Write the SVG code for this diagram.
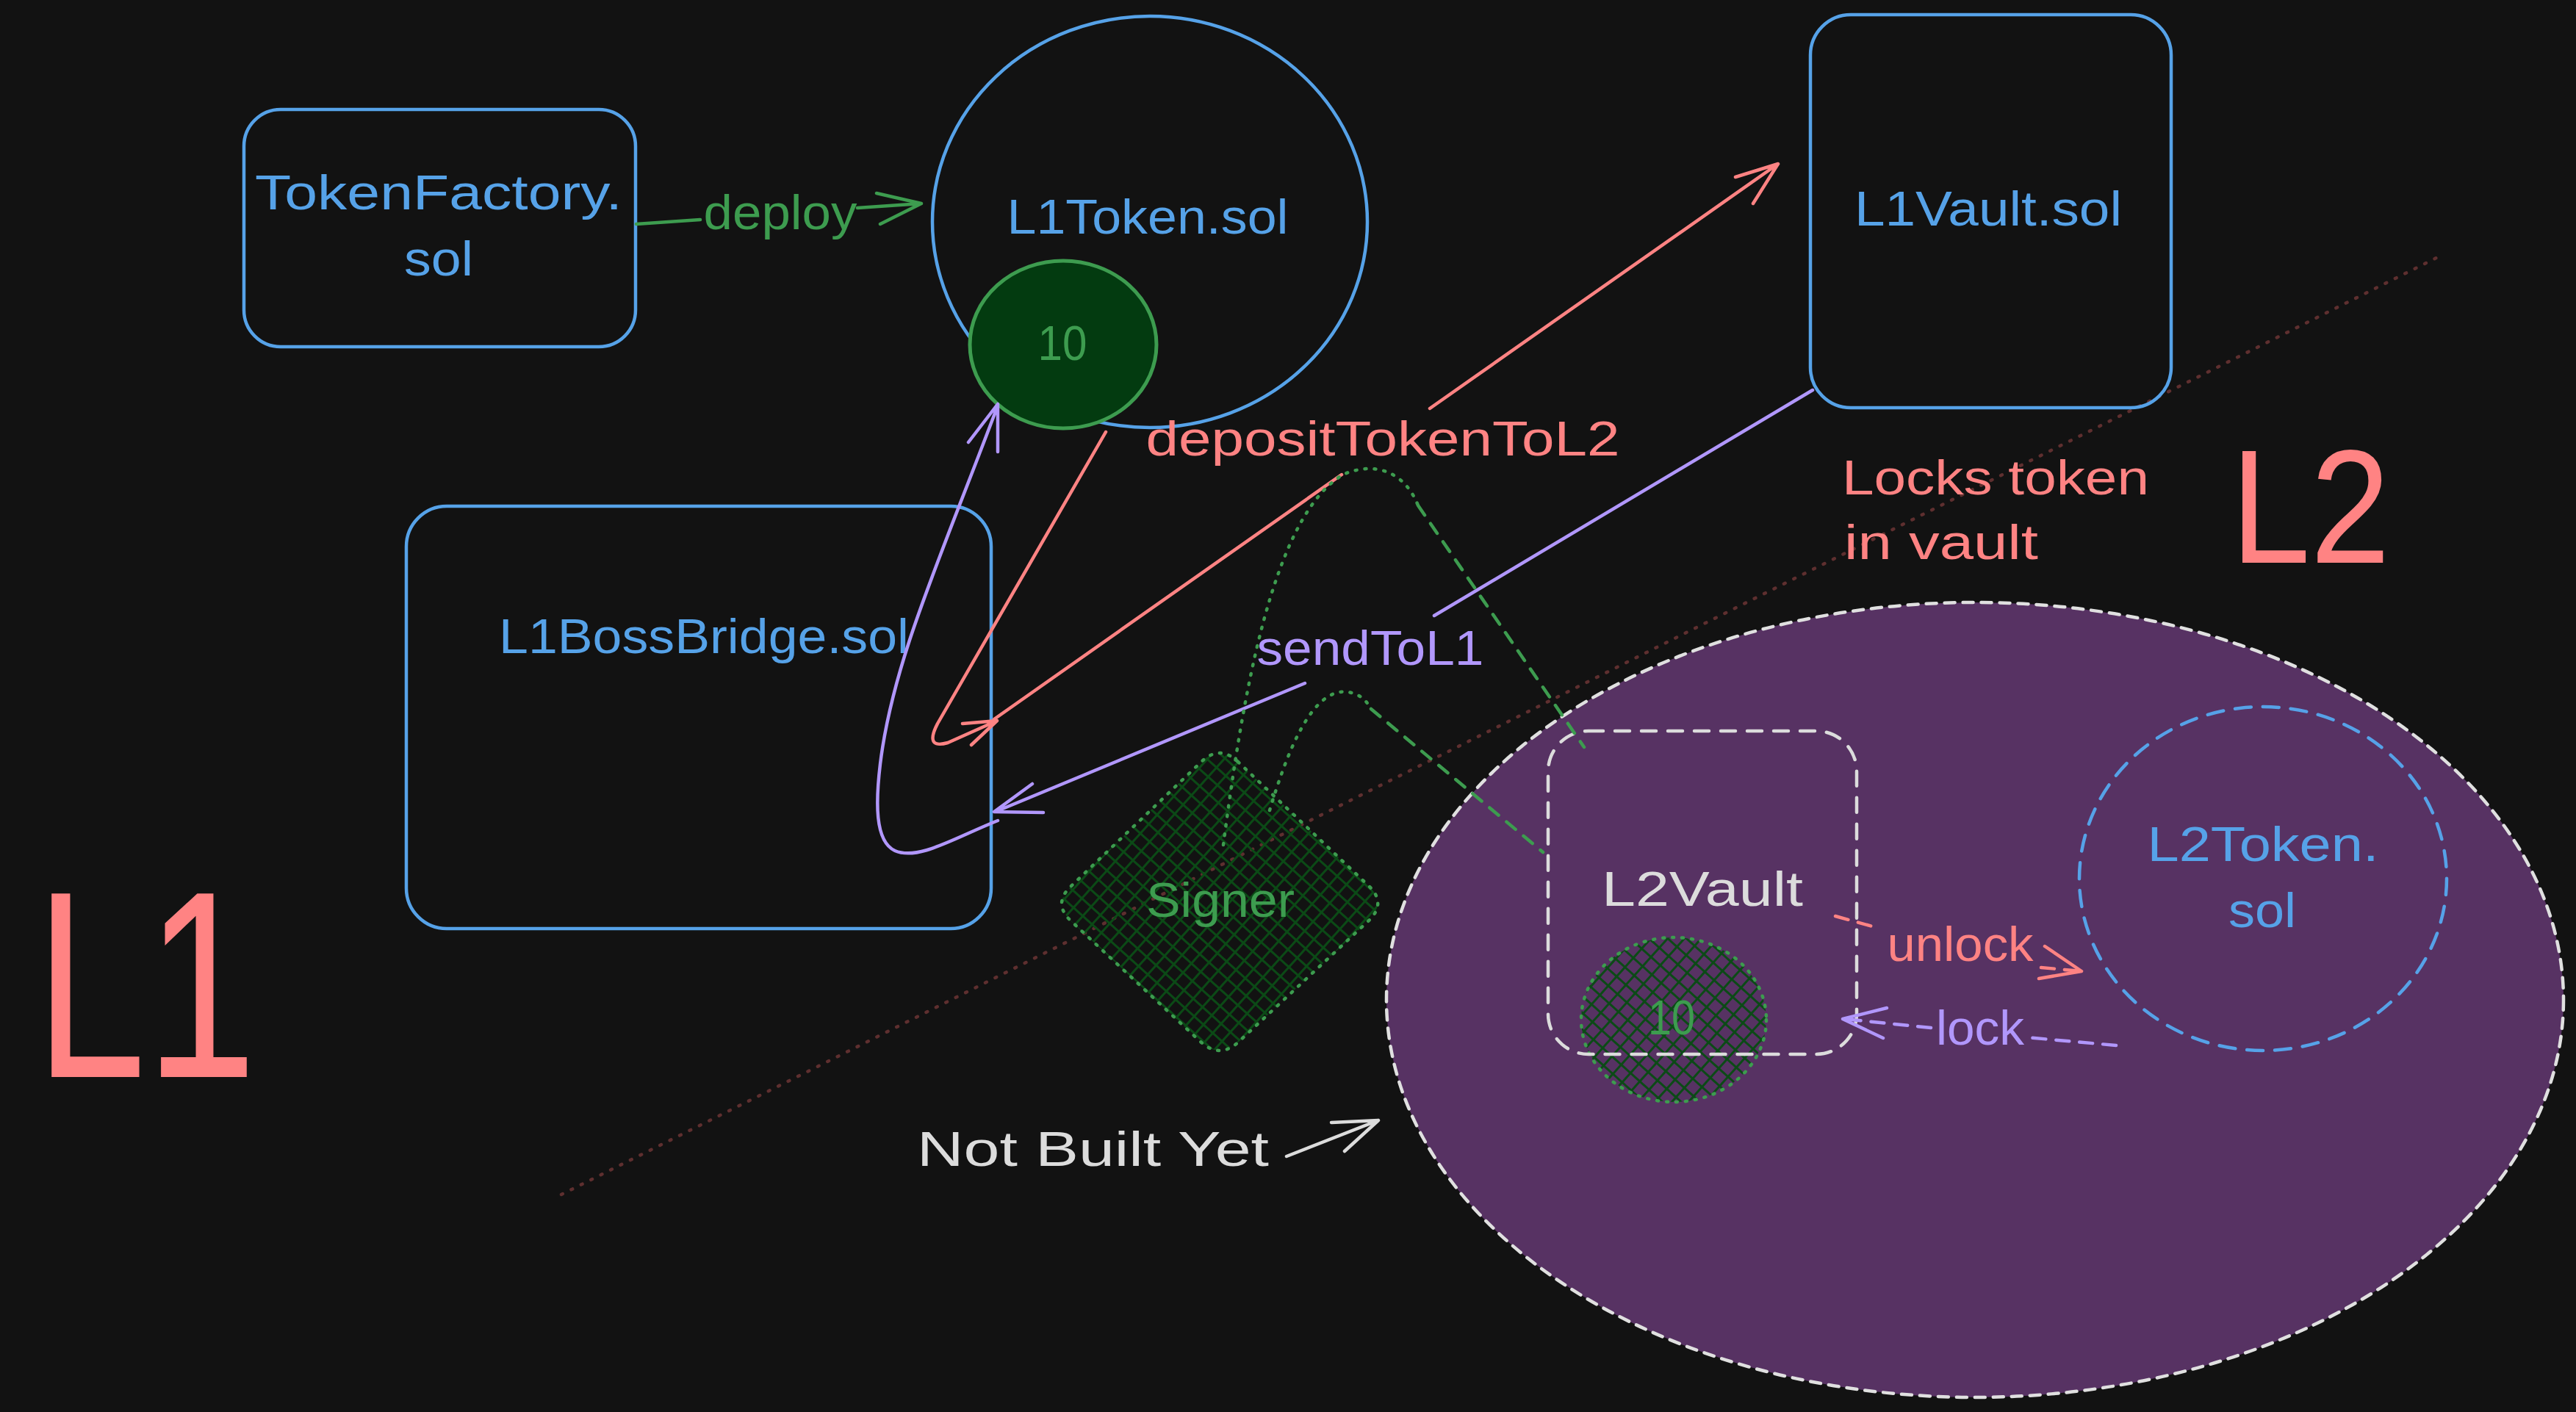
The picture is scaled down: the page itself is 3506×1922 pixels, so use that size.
<svg xmlns="http://www.w3.org/2000/svg" width="3506" height="1922" viewBox="0 0 3506 1922">
<defs>
<pattern id="hatch" width="17" height="17" patternUnits="userSpaceOnUse" patternTransform="rotate(42)">
<path d="M0,8.5 H17 M8.5,0 V17" stroke="#0b4a16" stroke-width="3"/>
</pattern>
<style>
.bg{fill:#121212}
.box{fill:none;stroke:#56a2e8;stroke-width:4.5}
.t{font-family:"Liberation Sans",Arial,sans-serif;font-size:66px;text-anchor:middle}
.big{font-family:"Liberation Sans",Arial,sans-serif;fill:#ff8383}
.tb{fill:#56a2e8}.tg{fill:#3d9c4f}.tr{fill:#ff8383}.tp{fill:#b197fc}.tw{fill:#dcdcdc}
.ln{fill:none;stroke-width:4.5;stroke-linecap:round;stroke-linejoin:round}
.hatch{fill:url(#hatch);stroke:#3d9c4f;stroke-width:4.5;stroke-linecap:round;stroke-linejoin:round;stroke-dasharray:2 11}
.g{stroke:#3d9c4f}.r{stroke:#ff8383}.p{stroke:#b197fc}.w{stroke:#dcdcdc}
.dot{stroke-dasharray:2 11}
.dash{stroke-dasharray:16 14}
</style>
</defs>
<rect class="bg" x="0" y="0" width="3506" height="1922"/>

<g id="divider">
<path d="M764,1626 L3318,350" fill="none" stroke="#5e2f2f" stroke-width="4.5" stroke-linecap="round" stroke-dasharray="2 13"/>
</g>

<g id="label-L1"><text class="big" x="48" y="1466" font-size="363" textLength="301" lengthAdjust="spacingAndGlyphs">L1</text></g>
<g id="label-L2"><text class="big" x="3036" y="766" font-size="221" textLength="217" lengthAdjust="spacingAndGlyphs">L2</text></g>

<g id="tokenfactory">
<rect class="box" x="332" y="149" width="533" height="323" rx="50"/>
<text class="t tb" x="597" y="285" textLength="500" lengthAdjust="spacingAndGlyphs">TokenFactory.</text>
<text class="t tb" x="597" y="375" textLength="94" lengthAdjust="spacingAndGlyphs">sol</text>
</g>

<g id="l1token">
<ellipse class="box" cx="1565" cy="302" rx="296" ry="280" stroke-width="4"/>
<text class="t tb" x="1562" y="318" textLength="383" lengthAdjust="spacingAndGlyphs">L1Token.sol</text>
</g>

<g id="l1token-balance">
<ellipse cx="1447" cy="469" rx="127" ry="114" fill="#033b10" stroke="#3d9c4f" stroke-width="5"/>
<text class="t tg" x="1446" y="490" font-size="76" textLength="67" lengthAdjust="spacingAndGlyphs">10</text>
</g>

<g id="l1vault">
<rect class="box" x="2464" y="20" width="491" height="535" rx="55"/>
<text class="t tb" x="2706" y="307" textLength="364" lengthAdjust="spacingAndGlyphs">L1Vault.sol</text>
</g>

<g id="l1bossbridge">
<rect class="box" x="553" y="689" width="796" height="575" rx="55"/>
<text class="t tb" x="958" y="889" textLength="558" lengthAdjust="spacingAndGlyphs">L1BossBridge.sol</text>
</g>

<g id="locks-note">
<text class="t tr" x="2507" y="673" style="text-anchor:start" textLength="418" lengthAdjust="spacingAndGlyphs">Locks token</text>
<text class="t tr" x="2510" y="761" style="text-anchor:start" textLength="264" lengthAdjust="spacingAndGlyphs">in vault</text>
</g>

<g id="signer">
<path class="hatch" d="M1685,1037 L1863,1206 Q1888,1230 1862,1254 L1686,1418 Q1660,1442 1634,1418 L1458,1254 Q1432,1230 1458,1206 L1635,1037 Q1660,1013 1685,1037 Z"/>
<text class="t tg" x="1661" y="1248" textLength="202" lengthAdjust="spacingAndGlyphs">Signer</text>
</g>

<g id="l2">
<ellipse cx="2688" cy="1361" rx="801" ry="541" fill="#573263" stroke="#e0e0e0" stroke-width="4.5" stroke-dasharray="14 11" stroke-linecap="round"/>
</g>

<g id="l2vault-balance">
<ellipse class="hatch" cx="2278" cy="1388" rx="126" ry="112"/>
<text class="t tg" x="2275" y="1408" font-size="76" textLength="64" lengthAdjust="spacingAndGlyphs">10</text>
</g>

<g id="l2vault">
<rect x="2107" y="995" width="420" height="440" rx="55" class="ln w" stroke-dasharray="20 16"/>
<text class="t tw" x="2317" y="1233" textLength="274" lengthAdjust="spacingAndGlyphs">L2Vault</text>
</g>

<g id="l2token">
<ellipse cx="3080" cy="1196" rx="250" ry="234" class="ln" stroke="#56a2e8" stroke-dasharray="22 16"/>
<text class="t tb" x="3080" y="1172" textLength="315" lengthAdjust="spacingAndGlyphs">L2Token.</text>
<text class="t tb" x="3079" y="1262" textLength="92" lengthAdjust="spacingAndGlyphs">sol</text>
</g>

<g id="notbuilt">
<text class="t tw" x="1248" y="1587" font-size="70" style="text-anchor:start" textLength="479" lengthAdjust="spacingAndGlyphs">Not Built Yet</text>
</g>

<g id="connectors">
<!-- deploy -->
<path class="ln g" stroke-width="5" d="M866,305 L953,299 M1167,283 L1254,277 M1193,263 L1254,277 L1198,305"/>
<text class="t tg" x="1062" y="312" textLength="209" lengthAdjust="spacingAndGlyphs">deploy</text>
<!-- salmon hook from L1Token balance to bridge -->
<path class="ln r" d="M1505,588 L1276,985 Q1258,1020 1290,1011 L1357,981 M1310,985 L1357,981 L1322,1014"/>
<!-- depositTokenToL2 -->
<path class="ln r" d="M1353,979 L1826,646 M1946,556 L2420,223 M2362,241 L2420,223 L2386,277"/>
<text class="t tr" x="1882" y="620" textLength="645" lengthAdjust="spacingAndGlyphs">depositTokenToL2</text>
<!-- purple from bridge up to balance -->
<path class="ln p" d="M1358,1117 C1300,1140 1250,1172 1218,1158 C1190,1145 1192,1090 1198,1040 C1215,900 1280,760 1358,552 M1318,602 L1358,550 L1358,615"/>
<!-- sendToL1 -->
<path class="ln p" stroke-width="5.5" d="M2467,531 L1952,838 M1776,930 L1357,1104 M1405,1067 L1353,1105 L1420,1106"/>
<text class="t tp" x="1865" y="905" textLength="309" lengthAdjust="spacingAndGlyphs">sendToL1</text>
<!-- signer links -->
<path class="ln g dot" d="M1665,1150 C1690,960 1730,700 1830,645 C1880,625 1915,650 1930,688"/>
<path class="ln g dash" d="M1930,688 L2156,1017"/>
<path class="ln g dot" d="M1728,1103 C1750,1030 1780,950 1823,942 C1845,940 1858,950 1866,965"/>
<path class="ln g dash" d="M1866,965 L2100,1160"/>
<!-- unlock -->
<path class="ln r" stroke-dasharray="18 14" d="M2498,1247 L2552,1262 M2778,1317 L2833,1322"/>
<path class="ln r" d="M2783,1288 L2833,1322 L2775,1332"/>
<text class="t tr" x="2668" y="1308" textLength="199" lengthAdjust="spacingAndGlyphs">unlock</text>
<!-- lock -->
<path class="ln p" stroke-dasharray="18 14" d="M2880,1423 L2758,1412 M2628,1399 L2510,1387"/>
<path class="ln p" d="M2568,1372 L2508,1387 L2563,1413"/>
<text class="t tp" x="2695" y="1422" textLength="120" lengthAdjust="spacingAndGlyphs">lock</text>
<!-- not built yet arrow -->
<path class="ln w" d="M1751,1574 L1876,1525 M1812,1528 L1876,1525 L1830,1567"/>
</g>
</svg>
